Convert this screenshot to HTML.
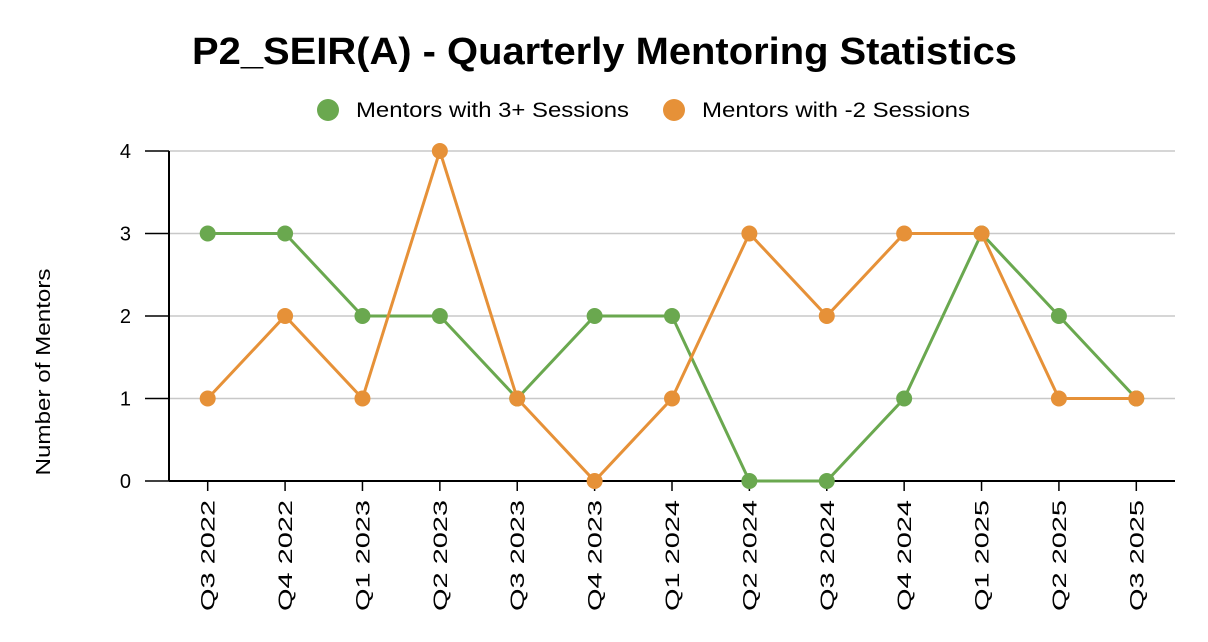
<!DOCTYPE html>
<html><head><meta charset="utf-8"><style>
body{margin:0;background:#fff;}
svg{display:block;font-family:"Liberation Sans",Arial,sans-serif;}
</style></head><body>
<svg id="chart" width="1208" height="642" viewBox="0 0 1208 642">
<text x="192" y="64" font-size="38" font-weight="bold" textLength="825" lengthAdjust="spacingAndGlyphs">P2_SEIR(A) - Quarterly Mentoring Statistics</text>
<g>
<g><circle cx="328" cy="110" r="11" fill="#6aa84f"/><text x="356" y="117" font-size="21" textLength="273" lengthAdjust="spacingAndGlyphs">Mentors with 3+ Sessions</text></g>
<g><circle cx="674" cy="110" r="11" fill="#e69138"/><text x="702" y="117" font-size="21" textLength="268" lengthAdjust="spacingAndGlyphs">Mentors with -2 Sessions</text></g>
</g>
<text transform="translate(50,372) rotate(-90)" text-anchor="middle" font-size="20" textLength="207" lengthAdjust="spacingAndGlyphs">Number of Mentors</text>
<g id="grid"></g><g id="axes"></g><g id="series"></g>
</svg>
<script>
const categories=["Q3 2022","Q4 2022","Q1 2023","Q2 2023","Q3 2023","Q4 2023","Q1 2024","Q2 2024","Q3 2024","Q4 2024","Q1 2025","Q2 2025","Q3 2025"];
const mentors3plus=[3,3,2,2,1,2,2,0,0,1,3,2,1];
const mentorsMinus2=[1,2,1,4,1,0,1,3,2,3,3,1,1];
const yTicks=[0,1,2,3,4];
const NS="http://www.w3.org/2000/svg";
const L=169,R=1175,T=151,B=481,yMax=4;
const band=(R-L)/categories.length;
const x=i=>L+band*(i+0.5);
const y=v=>B-(v/yMax)*(B-T);
function mk(tag,attrs,parent){const e=document.createElementNS(NS,tag);for(const k in attrs)e.setAttribute(k,attrs[k]);parent.appendChild(e);return e;}
const grid=document.getElementById('grid'),axes=document.getElementById('axes'),series=document.getElementById('series');
yTicks.forEach(t=>{
 if(t>0){const g=mk('line',{x1:L,x2:R,y1:y(t),y2:y(t),stroke:'#c8c8c8','stroke-width':1.5},grid);
 
 }
 const tk=mk('line',{x1:145,x2:L,y1:y(t),y2:y(t),stroke:'#000','stroke-width':1.5},axes);
 
 
 const lb=mk('text',{x:131,y:y(t)+7,'text-anchor':'end','font-size':20},axes);lb.textContent=t;
 
 
});
const ya=mk('line',{x1:L,x2:L,y1:T,y2:B,stroke:'#000','stroke-width':2},axes);


const xa=mk('line',{x1:L,x2:R,y1:B,y2:B,stroke:'#000','stroke-width':2},axes);


categories.forEach((c,i)=>{
 const tk=mk('line',{x1:x(i),x2:x(i),y1:B,y2:B+10,stroke:'#000','stroke-width':1.5},axes);
 
 
 const lb=mk('text',{transform:`translate(${x(i)+7},500) rotate(-90)`,'text-anchor':'end','font-size':19,textLength:111,lengthAdjust:'spacingAndGlyphs'},axes);lb.textContent=c;
 
 
});
function drawSeries(vals,color,name){
 const p=mk('polyline',{points:vals.map((v,i)=>x(i)+','+y(v)).join(' '),fill:'none',stroke:color,'stroke-width':3},series);
 
 
 vals.forEach((v,i)=>{const c=mk('circle',{cx:x(i),cy:y(v),r:8,fill:color},series);
 
 });
}
drawSeries(mentors3plus,'#6aa84f','mentors-3plus');
drawSeries(mentorsMinus2,'#e69138','mentors-minus2');
</script>
</body></html>
